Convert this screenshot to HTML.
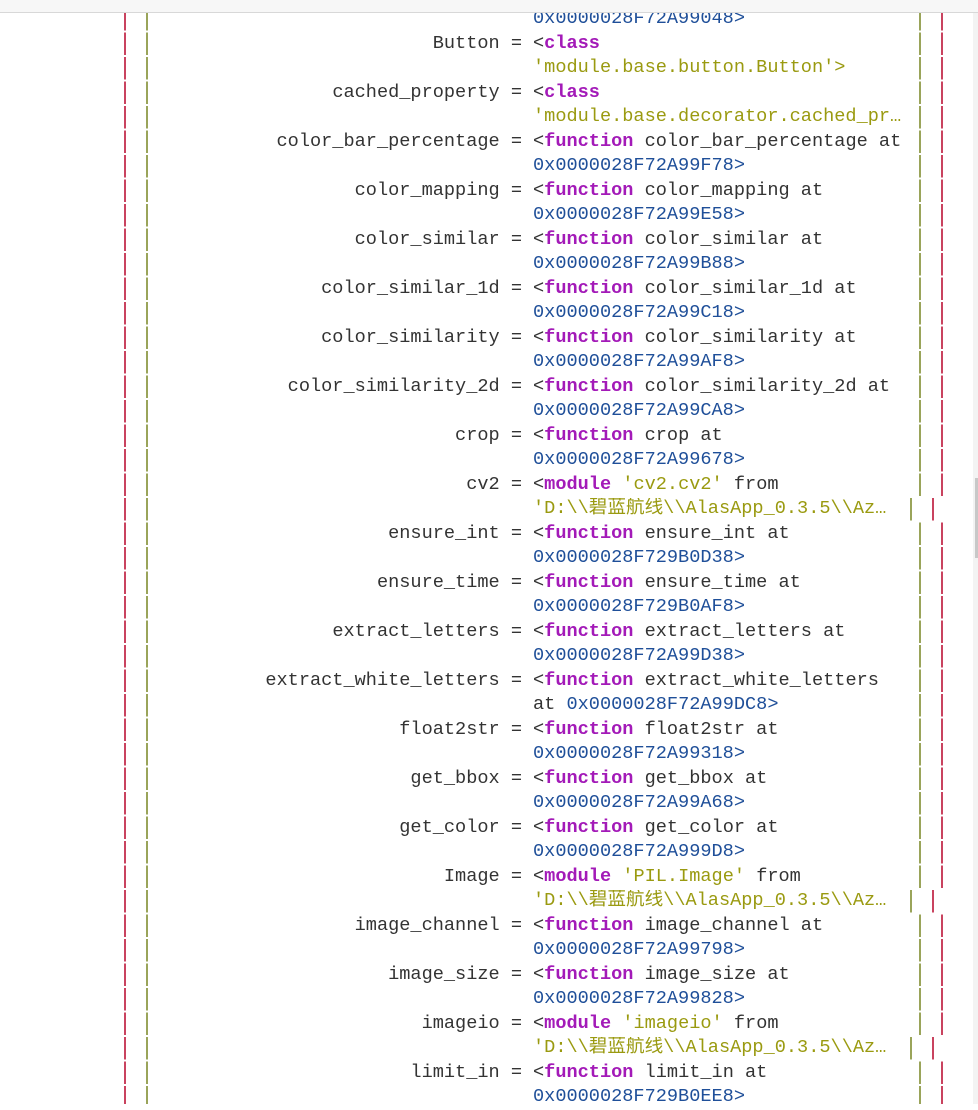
<!DOCTYPE html>
<html><head><meta charset="utf-8"><style>
html,body{margin:0;padding:0}
body{width:978px;height:1104px;overflow:hidden;background:#fff;position:relative;font-family:"Liberation Mono","Noto Sans CJK SC",monospace;font-size:18.6px;color:#333}
#top{position:absolute;left:0;top:0;width:978px;height:12px;background:#f7f7f7;border-bottom:1px solid #d8d8d8;z-index:2}
#sb{position:absolute;left:973px;top:13px;width:5px;height:1091px;background:#f3f3f3}
#sbt{position:absolute;left:975px;top:478px;width:3px;height:80px;background:#c8c8c8}
.r{position:absolute;left:0;width:978px;height:24.5px;line-height:24.5px;white-space:pre}
.k{position:absolute;right:456px;text-align:right}
.v{position:absolute;left:533px}
.b{position:absolute;top:1px;width:2px;height:22.5px}
.rd{background:#c9435f}.ol{background:#9aa45a}
.kw{color:#a31ab8;font-weight:bold}.h{color:#1f4f99}.s{color:#9a9a10}
</style></head><body>
<div id="top"></div><div id="sb"></div><div id="sbt"></div>

<div class="r" style="top:7px"><span class="v h">0x0000028F72A99048&gt;</span></div>
<div class="r" style="top:31.5px"><span class="k">Button =</span><span class="v">&lt;<span class="kw">class</span></span></div>
<div class="r" style="top:56px"><span class="v s">'module.base.button.Button'&gt;</span></div>
<div class="r" style="top:80.5px"><span class="k">cached_property =</span><span class="v">&lt;<span class="kw">class</span></span></div>
<div class="r" style="top:105px"><span class="v s">'module.base.decorator.cached_pr…</span></div>
<div class="r" style="top:129.5px"><span class="k">color_bar_percentage =</span><span class="v">&lt;<span class="kw">function</span> color_bar_percentage at</span></div>
<div class="r" style="top:154px"><span class="v h">0x0000028F72A99F78&gt;</span></div>
<div class="r" style="top:178.5px"><span class="k">color_mapping =</span><span class="v">&lt;<span class="kw">function</span> color_mapping at</span></div>
<div class="r" style="top:203px"><span class="v h">0x0000028F72A99E58&gt;</span></div>
<div class="r" style="top:227.5px"><span class="k">color_similar =</span><span class="v">&lt;<span class="kw">function</span> color_similar at</span></div>
<div class="r" style="top:252px"><span class="v h">0x0000028F72A99B88&gt;</span></div>
<div class="r" style="top:276.5px"><span class="k">color_similar_1d =</span><span class="v">&lt;<span class="kw">function</span> color_similar_1d at</span></div>
<div class="r" style="top:301px"><span class="v h">0x0000028F72A99C18&gt;</span></div>
<div class="r" style="top:325.5px"><span class="k">color_similarity =</span><span class="v">&lt;<span class="kw">function</span> color_similarity at</span></div>
<div class="r" style="top:350px"><span class="v h">0x0000028F72A99AF8&gt;</span></div>
<div class="r" style="top:374.5px"><span class="k">color_similarity_2d =</span><span class="v">&lt;<span class="kw">function</span> color_similarity_2d at</span></div>
<div class="r" style="top:399px"><span class="v h">0x0000028F72A99CA8&gt;</span></div>
<div class="r" style="top:423.5px"><span class="k">crop =</span><span class="v">&lt;<span class="kw">function</span> crop at</span></div>
<div class="r" style="top:448px"><span class="v h">0x0000028F72A99678&gt;</span></div>
<div class="r" style="top:472.5px"><span class="k">cv2 =</span><span class="v">&lt;<span class="kw">module</span> <span class="s">'cv2.cv2'</span> from</span></div>
<div class="r" style="top:497px"><span class="v s">'D:\\碧蓝航线\\AlasApp_0.3.5\\Az…</span></div>
<div class="r" style="top:521.5px"><span class="k">ensure_int =</span><span class="v">&lt;<span class="kw">function</span> ensure_int at</span></div>
<div class="r" style="top:546px"><span class="v h">0x0000028F729B0D38&gt;</span></div>
<div class="r" style="top:570.5px"><span class="k">ensure_time =</span><span class="v">&lt;<span class="kw">function</span> ensure_time at</span></div>
<div class="r" style="top:595px"><span class="v h">0x0000028F729B0AF8&gt;</span></div>
<div class="r" style="top:619.5px"><span class="k">extract_letters =</span><span class="v">&lt;<span class="kw">function</span> extract_letters at</span></div>
<div class="r" style="top:644px"><span class="v h">0x0000028F72A99D38&gt;</span></div>
<div class="r" style="top:668.5px"><span class="k">extract_white_letters =</span><span class="v">&lt;<span class="kw">function</span> extract_white_letters</span></div>
<div class="r" style="top:693px"><span class="v">at <span class="h">0x0000028F72A99DC8&gt;</span></span></div>
<div class="r" style="top:717.5px"><span class="k">float2str =</span><span class="v">&lt;<span class="kw">function</span> float2str at</span></div>
<div class="r" style="top:742px"><span class="v h">0x0000028F72A99318&gt;</span></div>
<div class="r" style="top:766.5px"><span class="k">get_bbox =</span><span class="v">&lt;<span class="kw">function</span> get_bbox at</span></div>
<div class="r" style="top:791px"><span class="v h">0x0000028F72A99A68&gt;</span></div>
<div class="r" style="top:815.5px"><span class="k">get_color =</span><span class="v">&lt;<span class="kw">function</span> get_color at</span></div>
<div class="r" style="top:840px"><span class="v h">0x0000028F72A999D8&gt;</span></div>
<div class="r" style="top:864.5px"><span class="k">Image =</span><span class="v">&lt;<span class="kw">module</span> <span class="s">'PIL.Image'</span> from</span></div>
<div class="r" style="top:889px"><span class="v s">'D:\\碧蓝航线\\AlasApp_0.3.5\\Az…</span></div>
<div class="r" style="top:913.5px"><span class="k">image_channel =</span><span class="v">&lt;<span class="kw">function</span> image_channel at</span></div>
<div class="r" style="top:938px"><span class="v h">0x0000028F72A99798&gt;</span></div>
<div class="r" style="top:962.5px"><span class="k">image_size =</span><span class="v">&lt;<span class="kw">function</span> image_size at</span></div>
<div class="r" style="top:987px"><span class="v h">0x0000028F72A99828&gt;</span></div>
<div class="r" style="top:1011.5px"><span class="k">imageio =</span><span class="v">&lt;<span class="kw">module</span> <span class="s">'imageio'</span> from</span></div>
<div class="r" style="top:1036px"><span class="v s">'D:\\碧蓝航线\\AlasApp_0.3.5\\Az…</span></div>
<div class="r" style="top:1060.5px"><span class="k">limit_in =</span><span class="v">&lt;<span class="kw">function</span> limit_in at</span></div>
<div class="r" style="top:1085px"><span class="v h">0x0000028F729B0EE8&gt;</span></div>

<svg width="978" height="1104" style="position:absolute;left:0;top:0" xmlns="http://www.w3.org/2000/svg">
<defs>
<pattern id="p" x="0" y="7" width="10" height="24.5" patternUnits="userSpaceOnUse">
<rect x="0" y="1" width="10" height="22.5" fill="#000"/>
</pattern>
</defs>
<g>
<line x1="125" y1="13" x2="125" y2="1104" stroke="#c9435f" stroke-width="2"/>
<line x1="147" y1="13" x2="147" y2="1104" stroke="#9aa45a" stroke-width="2"/>
<line x1="920" y1="13" x2="920" y2="1104" stroke="#9aa45a" stroke-width="2"/>
<line x1="942" y1="13" x2="942" y2="1104" stroke="#c9435f" stroke-width="2"/>
</g>
<g fill="#fff">
<rect x="110" y="30.5" width="850" height="2"/><rect x="110" y="55" width="850" height="2"/><rect x="110" y="79.5" width="850" height="2"/><rect x="110" y="104" width="850" height="2"/><rect x="110" y="128.5" width="850" height="2"/><rect x="110" y="153" width="850" height="2"/><rect x="110" y="177.5" width="850" height="2"/><rect x="110" y="202" width="850" height="2"/><rect x="110" y="226.5" width="850" height="2"/><rect x="110" y="251" width="850" height="2"/><rect x="110" y="275.5" width="850" height="2"/><rect x="110" y="300" width="850" height="2"/><rect x="110" y="324.5" width="850" height="2"/><rect x="110" y="349" width="850" height="2"/><rect x="110" y="373.5" width="850" height="2"/><rect x="110" y="398" width="850" height="2"/><rect x="110" y="422.5" width="850" height="2"/><rect x="110" y="447" width="850" height="2"/><rect x="110" y="471.5" width="850" height="2"/><rect x="110" y="496" width="850" height="2"/><rect x="110" y="520.5" width="850" height="2"/><rect x="110" y="545" width="850" height="2"/><rect x="110" y="569.5" width="850" height="2"/><rect x="110" y="594" width="850" height="2"/><rect x="110" y="618.5" width="850" height="2"/><rect x="110" y="643" width="850" height="2"/><rect x="110" y="667.5" width="850" height="2"/><rect x="110" y="692" width="850" height="2"/><rect x="110" y="716.5" width="850" height="2"/><rect x="110" y="741" width="850" height="2"/><rect x="110" y="765.5" width="850" height="2"/><rect x="110" y="790" width="850" height="2"/><rect x="110" y="814.5" width="850" height="2"/><rect x="110" y="839" width="850" height="2"/><rect x="110" y="863.5" width="850" height="2"/><rect x="110" y="888" width="850" height="2"/><rect x="110" y="912.5" width="850" height="2"/><rect x="110" y="937" width="850" height="2"/><rect x="110" y="961.5" width="850" height="2"/><rect x="110" y="986" width="850" height="2"/><rect x="110" y="1010.5" width="850" height="2"/><rect x="110" y="1035" width="850" height="2"/><rect x="110" y="1059.5" width="850" height="2"/><rect x="110" y="1084" width="850" height="2"/>
<rect x="915" y="497.5" width="30" height="23"/><rect x="915" y="889.5" width="30" height="23"/><rect x="915" y="1036.5" width="30" height="23"/>
</g>
<g>
<rect x="910" y="498" width="2" height="22.5" fill="#9aa45a"/><rect x="932" y="498" width="2" height="22.5" fill="#c9435f"/>
<rect x="910" y="890" width="2" height="22.5" fill="#9aa45a"/><rect x="932" y="890" width="2" height="22.5" fill="#c9435f"/>
<rect x="910" y="1037" width="2" height="22.5" fill="#9aa45a"/><rect x="932" y="1037" width="2" height="22.5" fill="#c9435f"/>
</g>
</svg>
</body></html>
